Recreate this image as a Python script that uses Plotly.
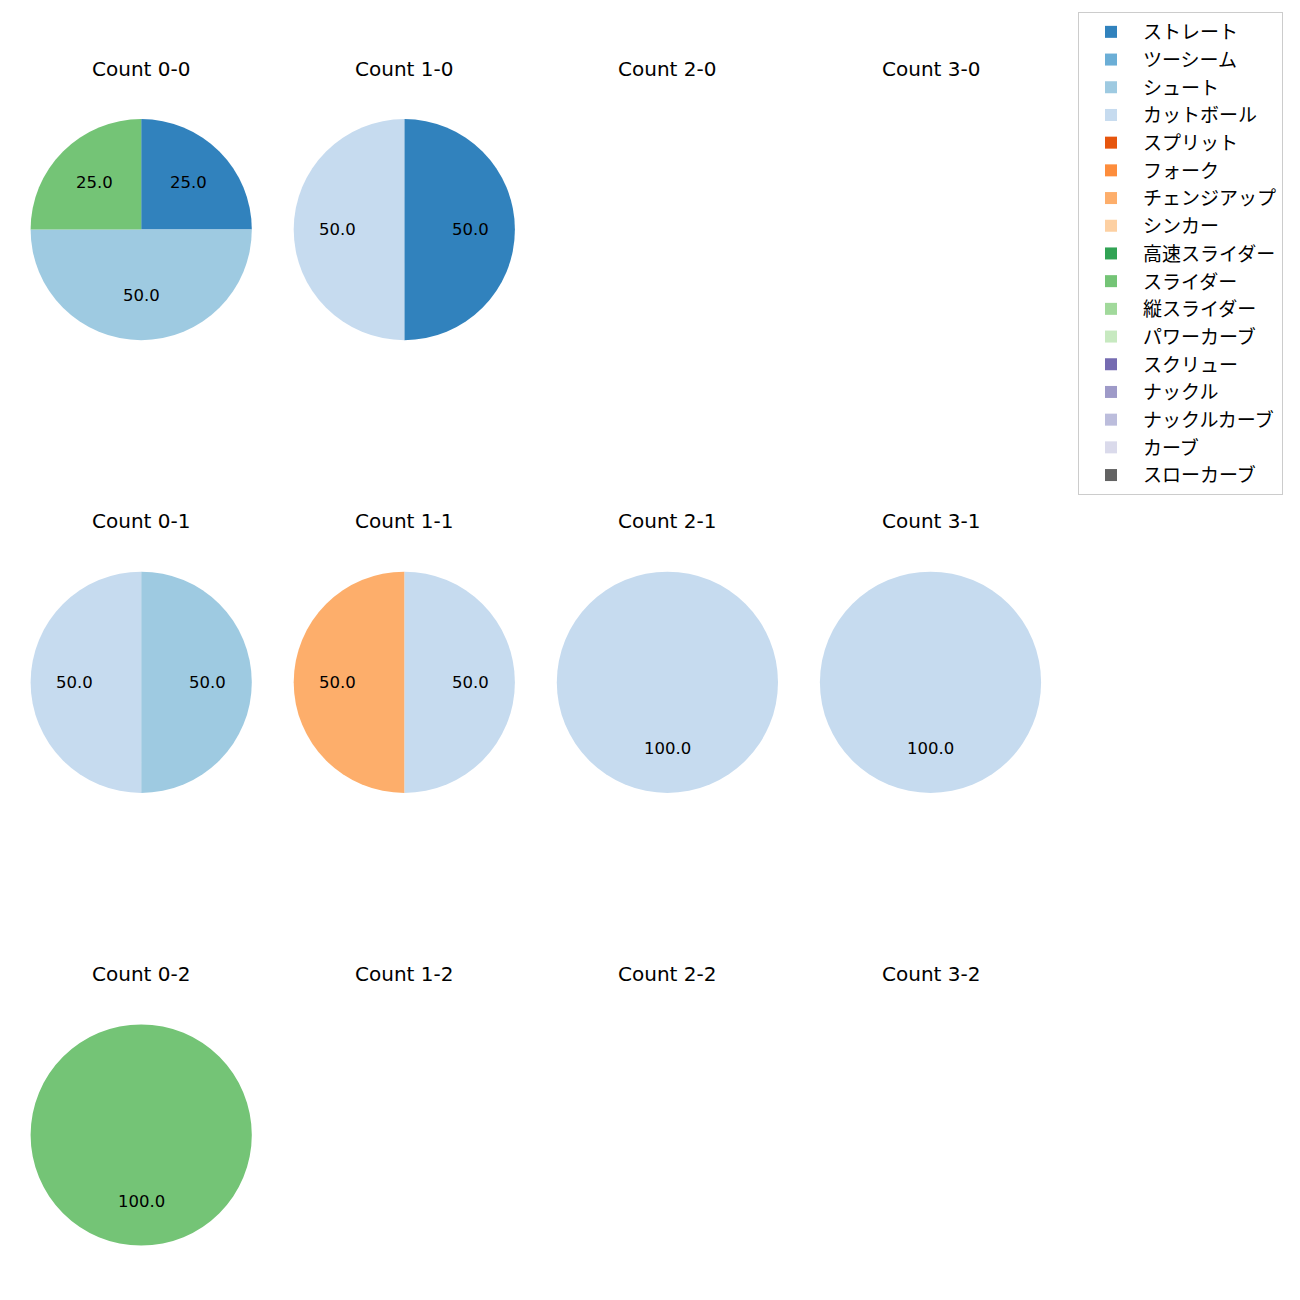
import math
import plotly.graph_objects as go

W, H = 1300, 1300

pitch_types = ["ストレート", "ツーシーム", "シュート", "カットボール", "スプリット", "フォーク",
               "チェンジアップ", "シンカー", "高速スライダー", "スライダー", "縦スライダー",
               "パワーカーブ", "スクリュー", "ナックル", "ナックルカーブ", "カーブ", "スローカーブ"]
pitch_colors = ["#3182bd", "#6baed6", "#9ecae1", "#c6dbef", "#e6550d", "#fd8d3c",
                "#fdae6b", "#fdd0a2", "#31a354", "#74c476", "#a1d99b", "#c7e9c0",
                "#756bb1", "#9e9ac8", "#bcbddc", "#dadaeb", "#636363"]

# balls-strikes count panels, in grid order (row = strikes, column = balls)
count_labels = ["0-0", "1-0", "2-0", "3-0",
                "0-1", "1-1", "2-1", "3-1",
                "0-2", "1-2", "2-2", "3-2"]

# percentage share of each pitch type per count (missing = 0)
share_0_0 = {"ストレート": 25.0, "シュート": 50.0, "スライダー": 25.0}
share_1_0 = {"ストレート": 50.0, "カットボール": 50.0}
share_2_0 = {}
share_3_0 = {}
share_0_1 = {"シュート": 50.0, "カットボール": 50.0}
share_1_1 = {"カットボール": 50.0, "チェンジアップ": 50.0}
share_2_1 = {"カットボール": 100.0}
share_3_1 = {"カットボール": 100.0}
share_0_2 = {"スライダー": 100.0}
share_1_2 = {}
share_2_2 = {}
share_3_2 = {}

shares = [share_0_0, share_1_0, share_2_0, share_3_0,
          share_0_1, share_1_1, share_2_1, share_3_1,
          share_0_2, share_1_2, share_2_2, share_3_2]

LATIN = "DejaVu Sans, Noto Sans CJK JP"
CJK = "Noto Sans CJK JP"
OFF = 8  # page offset of the plot inside the browser window
cx0, dx = 141.2, 263.1
cy0, dy = 229.6, 452.7
R = 110.6


def px(x):
    return (x - OFF) / W


def py(y):
    return 1 - (y - OFF) / H


fig = go.Figure()
annotations = []

for i, (lab, sh) in enumerate(zip(count_labels, shares)):
    col, row = i % 4, i // 4
    cx = cx0 + dx * col
    cy = cy0 + dy * row
    dom_x = [px(cx - R), px(cx + R)]
    dom_y = [py(cy + R), py(cy - R)]
    annotations.append(dict(x=px(cx), y=py(cy - 161), xref="paper", yref="paper",
                            text=f"Count {lab}", showarrow=False,
                            font=dict(family=LATIN, size=20, color="#000000"),
                            xanchor="center", yanchor="middle"))
    vals = [sh.get(p, 0.0) for p in pitch_types]
    total = sum(vals)
    if total <= 0:
        continue
    fig.add_trace(go.Pie(
        labels=pitch_types, values=vals, sort=False, direction="clockwise", rotation=0,
        marker=dict(colors=pitch_colors, line=dict(width=0)),
        textinfo="none", hoverinfo="label+percent",
        domain=dict(x=dom_x, y=dom_y), showlegend=True, name=f"Count {lab}",
    ))
    # percentage labels at 0.6 radius, at each wedge's mid-angle (clockwise from top)
    cum = 0.0
    for v in vals:
        if v <= 0:
            continue
        mid = (cum + v / 2) / total * 2 * math.pi
        cum += v
        tx = cx + 0.6 * R * math.sin(mid)
        ty = cy - 0.6 * R * math.cos(mid)
        annotations.append(dict(x=px(tx), y=py(ty), xref="paper", yref="paper",
                                text=f"{v / total * 100:.1f}", showarrow=False,
                                font=dict(family=LATIN, size=16.5, color="#000000"),
                                xanchor="center", yanchor="middle"))

fig.update_layout(
    width=W, height=H,
    margin=dict(l=0, r=0, t=0, b=0),
    paper_bgcolor="white", plot_bgcolor="white",
    font=dict(family=CJK, size=17, color="#000000"),
    annotations=annotations,
    legend=dict(x=px(1283), y=py(12), xanchor="right", yanchor="top",
                bgcolor="white", bordercolor="#cccccc", borderwidth=1,
                itemwidth=54,
                font=dict(family=CJK, size=19), traceorder="normal"),
)

fig.write_html("out.html")
